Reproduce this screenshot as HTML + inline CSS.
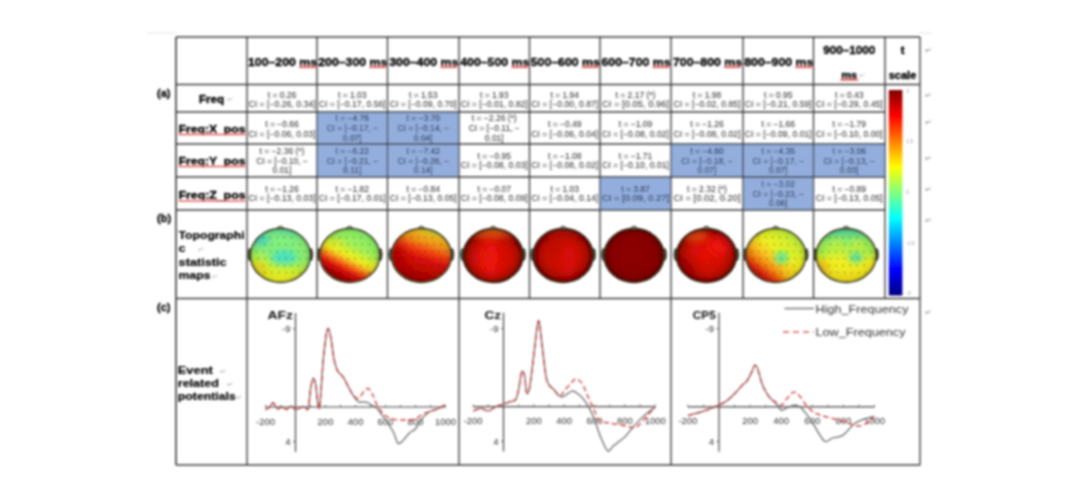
<!DOCTYPE html>
<html><head><meta charset="utf-8"><style>
html,body{margin:0;padding:0;background:#fff;width:1080px;height:504px;overflow:hidden}
#wrap{position:absolute;left:0;top:0;width:1080px;height:504px}
svg{display:block;font-family:"Liberation Sans",sans-serif}
</style></head><body><div id="wrap">
<svg width="1080" height="504" viewBox="0 0 1080 504">
<defs><filter id="gblur" x="0" y="0" width="1080" height="504" filterUnits="userSpaceOnUse"><feGaussianBlur stdDeviation="0.8"/></filter></defs>
<rect width="1080" height="504" fill="#fff"/>
<g filter="url(#gblur)">
<defs><linearGradient id="jet" x1="0" y1="0" x2="0" y2="1"><stop offset="0" stop-color="#800000"/><stop offset="0.125" stop-color="#ff0000"/><stop offset="0.375" stop-color="#ffff00"/><stop offset="0.625" stop-color="#00ffff"/><stop offset="0.875" stop-color="#0000ff"/><stop offset="1" stop-color="#000080"/></linearGradient><filter id="bl2" x="-50%" y="-50%" width="200%" height="200%"><feGaussianBlur stdDeviation="3"/></filter><filter id="bl4" x="-50%" y="-50%" width="200%" height="200%"><feGaussianBlur stdDeviation="5"/></filter></defs>
<rect x="888.8" y="90" width="13.6" height="205.5" fill="url(#jet)"/>
<text x="906" y="93" font-size="5" font-weight="normal" text-anchor="start" fill="#999"  >3</text>
<text x="906" y="143" font-size="5" font-weight="normal" text-anchor="start" fill="#999"  >1.5</text>
<text x="906" y="194" font-size="5" font-weight="normal" text-anchor="start" fill="#999"  >0</text>
<text x="906" y="245" font-size="5" font-weight="normal" text-anchor="start" fill="#999"  >-1.5</text>
<text x="906" y="295" font-size="5" font-weight="normal" text-anchor="start" fill="#999"  >-3</text>
<rect x="317" y="112" width="70.5" height="32" fill="#93aedd"/>
<rect x="387.5" y="112" width="71.5" height="32" fill="#93aedd"/>
<rect x="317" y="144" width="70.5" height="33" fill="#93aedd"/>
<rect x="387.5" y="144" width="71.5" height="33" fill="#93aedd"/>
<rect x="671" y="144" width="72" height="33" fill="#93aedd"/>
<rect x="743" y="144" width="70.5" height="33" fill="#93aedd"/>
<rect x="813.5" y="144" width="71.5" height="33" fill="#93aedd"/>
<rect x="600" y="177" width="71" height="33" fill="#93aedd"/>
<rect x="743" y="177" width="70.5" height="33" fill="#93aedd"/>
<line x1="176" y1="37" x2="920" y2="37" stroke="#383838" stroke-width="1.3"/>
<line x1="176" y1="84.5" x2="920" y2="84.5" stroke="#383838" stroke-width="1.3"/>
<line x1="147" y1="33" x2="176" y2="33" stroke="#e4e4e4" stroke-width="1"/>
<line x1="918" y1="33" x2="932" y2="33" stroke="#e4e4e4" stroke-width="1"/>
<line x1="176" y1="112" x2="885" y2="112" stroke="#383838" stroke-width="1.3"/>
<line x1="176" y1="144" x2="885" y2="144" stroke="#383838" stroke-width="1.3"/>
<line x1="176" y1="177" x2="885" y2="177" stroke="#383838" stroke-width="1.3"/>
<line x1="176" y1="210" x2="885" y2="210" stroke="#383838" stroke-width="1.3"/>
<line x1="176" y1="298.5" x2="920" y2="298.5" stroke="#383838" stroke-width="1.3"/>
<line x1="176" y1="465" x2="920" y2="465" stroke="#383838" stroke-width="1.3"/>
<line x1="176" y1="37" x2="176" y2="465" stroke="#383838" stroke-width="1.6"/>
<line x1="920" y1="37" x2="920" y2="465" stroke="#383838" stroke-width="1.3"/>
<line x1="247" y1="37" x2="247" y2="465" stroke="#383838" stroke-width="1.3"/>
<line x1="317" y1="37" x2="317" y2="298.5" stroke="#383838" stroke-width="1.3"/>
<line x1="387.5" y1="37" x2="387.5" y2="298.5" stroke="#383838" stroke-width="1.3"/>
<line x1="459" y1="37" x2="459" y2="298.5" stroke="#383838" stroke-width="1.3"/>
<line x1="529.5" y1="37" x2="529.5" y2="298.5" stroke="#383838" stroke-width="1.3"/>
<line x1="600" y1="37" x2="600" y2="298.5" stroke="#383838" stroke-width="1.3"/>
<line x1="671" y1="37" x2="671" y2="298.5" stroke="#383838" stroke-width="1.3"/>
<line x1="743" y1="37" x2="743" y2="298.5" stroke="#383838" stroke-width="1.3"/>
<line x1="813.5" y1="37" x2="813.5" y2="298.5" stroke="#383838" stroke-width="1.3"/>
<line x1="885" y1="37" x2="885" y2="298.5" stroke="#383838" stroke-width="1.3"/>
<line x1="459" y1="298.5" x2="459" y2="465" stroke="#383838" stroke-width="1.3"/>
<line x1="671" y1="298.5" x2="671" y2="465" stroke="#383838" stroke-width="1.3"/>
<text x="282.5" y="66" font-size="11" font-weight="bold" text-anchor="middle" fill="#000" textLength="69" lengthAdjust="spacingAndGlyphs" stroke="#000" stroke-width="0.35">100–200 ms</text>
<line x1="299.0" y1="67.3" x2="316.0" y2="67.3" stroke="#e05a5a" stroke-width="1.6"/>
<text x="352.75" y="66" font-size="11" font-weight="bold" text-anchor="middle" fill="#000" textLength="69" lengthAdjust="spacingAndGlyphs" stroke="#000" stroke-width="0.35">200–300 ms</text>
<line x1="369.25" y1="67.3" x2="386.25" y2="67.3" stroke="#e05a5a" stroke-width="1.6"/>
<text x="423.75" y="66" font-size="11" font-weight="bold" text-anchor="middle" fill="#000" textLength="69" lengthAdjust="spacingAndGlyphs" stroke="#000" stroke-width="0.35">300–400 ms</text>
<line x1="440.25" y1="67.3" x2="457.25" y2="67.3" stroke="#e05a5a" stroke-width="1.6"/>
<text x="494.75" y="66" font-size="11" font-weight="bold" text-anchor="middle" fill="#000" textLength="69" lengthAdjust="spacingAndGlyphs" stroke="#000" stroke-width="0.35">400–500 ms</text>
<line x1="511.25" y1="67.3" x2="528.25" y2="67.3" stroke="#e05a5a" stroke-width="1.6"/>
<text x="565.25" y="66" font-size="11" font-weight="bold" text-anchor="middle" fill="#000" textLength="69" lengthAdjust="spacingAndGlyphs" stroke="#000" stroke-width="0.35">500–600 ms</text>
<line x1="581.75" y1="67.3" x2="598.75" y2="67.3" stroke="#e05a5a" stroke-width="1.6"/>
<text x="636.0" y="66" font-size="11" font-weight="bold" text-anchor="middle" fill="#000" textLength="69" lengthAdjust="spacingAndGlyphs" stroke="#000" stroke-width="0.35">600–700 ms</text>
<line x1="652.5" y1="67.3" x2="669.5" y2="67.3" stroke="#e05a5a" stroke-width="1.6"/>
<text x="707.5" y="66" font-size="11" font-weight="bold" text-anchor="middle" fill="#000" textLength="69" lengthAdjust="spacingAndGlyphs" stroke="#000" stroke-width="0.35">700–800 ms</text>
<line x1="724.0" y1="67.3" x2="741.0" y2="67.3" stroke="#e05a5a" stroke-width="1.6"/>
<text x="778.75" y="66" font-size="11" font-weight="bold" text-anchor="middle" fill="#000" textLength="69" lengthAdjust="spacingAndGlyphs" stroke="#000" stroke-width="0.35">800–900 ms</text>
<line x1="795.25" y1="67.3" x2="812.25" y2="67.3" stroke="#e05a5a" stroke-width="1.6"/>
<text x="849.25" y="54" font-size="11" font-weight="bold" text-anchor="middle" fill="#000" textLength="52" lengthAdjust="spacingAndGlyphs" stroke="#000" stroke-width="0.35">900–1000</text>
<text x="849.25" y="78.5" font-size="11" font-weight="bold" text-anchor="middle" fill="#000"  stroke="#000" stroke-width="0.35">ms</text>
<line x1="840.25" y1="79.8" x2="858.25" y2="79.8" stroke="#e05a5a" stroke-width="1.6"/>
<text x="862.25" y="78" font-size="7" font-weight="normal" text-anchor="middle" fill="#aaa"  >↵</text>
<text x="902.5" y="54" font-size="11" font-weight="bold" text-anchor="middle" fill="#000"  stroke="#000" stroke-width="0.35">t</text>
<text x="902.5" y="78.5" font-size="11" font-weight="bold" text-anchor="middle" fill="#000"  stroke="#000" stroke-width="0.35">scale</text>
<text x="211.5" y="102.5" font-size="11.5" font-weight="bold" text-anchor="middle" fill="#000"  stroke="#000" stroke-width="0.35">Freq</text>
<text x="230" y="102" font-size="7" font-weight="normal" text-anchor="middle" fill="#aaa"  >↵</text>
<text x="178.5" y="132.5" font-size="11" font-weight="bold" text-anchor="start" fill="#000" textLength="67" lengthAdjust="spacingAndGlyphs" stroke="#000" stroke-width="0.35">Freq:X_pos</text>
<line x1="178.5" y1="134.5" x2="245.5" y2="134.5" stroke="#e06060" stroke-width="1.5"/>
<text x="178.5" y="164.5" font-size="11" font-weight="bold" text-anchor="start" fill="#000" textLength="67" lengthAdjust="spacingAndGlyphs" stroke="#000" stroke-width="0.35">Freq:Y_pos</text>
<line x1="178.5" y1="166.5" x2="245.5" y2="166.5" stroke="#e06060" stroke-width="1.5"/>
<text x="178.5" y="199" font-size="11" font-weight="bold" text-anchor="start" fill="#000" textLength="67" lengthAdjust="spacingAndGlyphs" stroke="#000" stroke-width="0.35">Freq:Z_pos</text>
<line x1="178.5" y1="201" x2="245.5" y2="201" stroke="#e06060" stroke-width="1.5"/>
<text x="157" y="97" font-size="11" font-weight="bold" text-anchor="start" fill="#000"  stroke="#000" stroke-width="0.3">(a)</text>
<text x="157" y="221.5" font-size="11" font-weight="bold" text-anchor="start" fill="#000"  stroke="#000" stroke-width="0.3">(b)</text>
<text x="157" y="310.5" font-size="11" font-weight="bold" text-anchor="start" fill="#000"  stroke="#000" stroke-width="0.3">(c)</text>
<text x="178.6" y="238.5" font-size="11" font-weight="bold" text-anchor="start" fill="#000" textLength="66" lengthAdjust="spacingAndGlyphs" stroke="#000" stroke-width="0.2">Topographi</text>
<text x="178.6" y="252" font-size="11" font-weight="bold" text-anchor="start" fill="#000" textLength="7" lengthAdjust="spacingAndGlyphs" stroke="#000" stroke-width="0.2">c</text>
<text x="178.6" y="265.5" font-size="11" font-weight="bold" text-anchor="start" fill="#000" textLength="48" lengthAdjust="spacingAndGlyphs" stroke="#000" stroke-width="0.2">statistic</text>
<text x="178.6" y="279" font-size="11" font-weight="bold" text-anchor="start" fill="#000" textLength="32" lengthAdjust="spacingAndGlyphs" stroke="#000" stroke-width="0.2">maps</text>
<text x="198" y="252" font-size="7" font-weight="normal" text-anchor="start" fill="#aaa"  >↵</text>
<text x="212" y="279" font-size="7" font-weight="normal" text-anchor="start" fill="#aaa"  >↵</text>
<text x="177.8" y="374" font-size="11" font-weight="bold" text-anchor="start" fill="#000" textLength="35" lengthAdjust="spacingAndGlyphs" stroke="#000" stroke-width="0.2">Event</text>
<text x="177.8" y="386.5" font-size="11" font-weight="bold" text-anchor="start" fill="#000" textLength="41" lengthAdjust="spacingAndGlyphs" stroke="#000" stroke-width="0.2">related</text>
<text x="177.8" y="400" font-size="11" font-weight="bold" text-anchor="start" fill="#000" textLength="58" lengthAdjust="spacingAndGlyphs" stroke="#000" stroke-width="0.2">potentials</text>
<text x="220" y="374" font-size="7" font-weight="normal" text-anchor="start" fill="#999"  >↵</text>
<text x="227" y="386.5" font-size="7" font-weight="normal" text-anchor="start" fill="#999"  >↵</text>
<text x="236" y="400" font-size="7" font-weight="normal" text-anchor="start" fill="#999"  >↵</text>
<text x="282.0" y="97.5" font-size="8.5" font-weight="normal" text-anchor="middle" fill="#2a2a2a"  >t = 0.26</text>
<text x="282.0" y="107.4" font-size="8.5" font-weight="normal" text-anchor="middle" fill="#2a2a2a" textLength="67" lengthAdjust="spacingAndGlyphs" >CI = [−0.26, 0.34]</text>
<text x="352.25" y="97.5" font-size="8.5" font-weight="normal" text-anchor="middle" fill="#2a2a2a"  >t = 1.03</text>
<text x="352.25" y="107.4" font-size="8.5" font-weight="normal" text-anchor="middle" fill="#2a2a2a" textLength="67" lengthAdjust="spacingAndGlyphs" >CI = [−0.17, 0.56]</text>
<text x="423.25" y="97.5" font-size="8.5" font-weight="normal" text-anchor="middle" fill="#2a2a2a"  >t = 1.53</text>
<text x="423.25" y="107.4" font-size="8.5" font-weight="normal" text-anchor="middle" fill="#2a2a2a" textLength="67" lengthAdjust="spacingAndGlyphs" >CI = [−0.09, 0.70]</text>
<text x="494.25" y="97.5" font-size="8.5" font-weight="normal" text-anchor="middle" fill="#2a2a2a"  >t = 1.93</text>
<text x="494.25" y="107.4" font-size="8.5" font-weight="normal" text-anchor="middle" fill="#2a2a2a" textLength="67" lengthAdjust="spacingAndGlyphs" >CI = [−0.01, 0.82]</text>
<text x="564.75" y="97.5" font-size="8.5" font-weight="normal" text-anchor="middle" fill="#2a2a2a"  >t = 1.94</text>
<text x="564.75" y="107.4" font-size="8.5" font-weight="normal" text-anchor="middle" fill="#2a2a2a" textLength="67" lengthAdjust="spacingAndGlyphs" >CI = [−0.00, 0.87]</text>
<text x="635.5" y="97.5" font-size="8.5" font-weight="normal" text-anchor="middle" fill="#2a2a2a"  >t = 2.17 (*)</text>
<text x="635.5" y="107.4" font-size="8.5" font-weight="normal" text-anchor="middle" fill="#2a2a2a" textLength="67" lengthAdjust="spacingAndGlyphs" >CI = [0.05, 0.96]</text>
<text x="707.0" y="97.5" font-size="8.5" font-weight="normal" text-anchor="middle" fill="#2a2a2a"  >t = 1.98</text>
<text x="707.0" y="107.4" font-size="8.5" font-weight="normal" text-anchor="middle" fill="#2a2a2a" textLength="67" lengthAdjust="spacingAndGlyphs" >CI = [−0.02, 0.85]</text>
<text x="778.25" y="97.5" font-size="8.5" font-weight="normal" text-anchor="middle" fill="#2a2a2a"  >t = 0.95</text>
<text x="778.25" y="107.4" font-size="8.5" font-weight="normal" text-anchor="middle" fill="#2a2a2a" textLength="67" lengthAdjust="spacingAndGlyphs" >CI = [−0.21, 0.59]</text>
<text x="849.25" y="97.5" font-size="8.5" font-weight="normal" text-anchor="middle" fill="#2a2a2a"  >t = 0.43</text>
<text x="849.25" y="107.4" font-size="8.5" font-weight="normal" text-anchor="middle" fill="#2a2a2a" textLength="67" lengthAdjust="spacingAndGlyphs" >CI = [−0.29, 0.45]</text>
<text x="282.0" y="126.7" font-size="8.5" font-weight="normal" text-anchor="middle" fill="#2a2a2a"  >t = −0.66</text>
<text x="282.0" y="136.5" font-size="8.5" font-weight="normal" text-anchor="middle" fill="#2a2a2a" textLength="67" lengthAdjust="spacingAndGlyphs" >CI = [−0.06, 0.03]</text>
<text x="352.25" y="121.2" font-size="8.5" font-weight="normal" text-anchor="middle" fill="#0e1838"  >t = −4.76</text>
<text x="352.25" y="131.0" font-size="8.5" font-weight="normal" text-anchor="middle" fill="#0e1838"  >CI = [−0.17, −</text>
<text x="352.25" y="140.8" font-size="8.5" font-weight="normal" text-anchor="middle" fill="#0e1838"  >0.07]</text>
<text x="423.25" y="121.2" font-size="8.5" font-weight="normal" text-anchor="middle" fill="#0e1838"  >t = −3.70</text>
<text x="423.25" y="131.0" font-size="8.5" font-weight="normal" text-anchor="middle" fill="#0e1838"  >CI = [−0.14, −</text>
<text x="423.25" y="140.8" font-size="8.5" font-weight="normal" text-anchor="middle" fill="#0e1838"  >0.04]</text>
<text x="494.25" y="121.2" font-size="8.5" font-weight="normal" text-anchor="middle" fill="#2a2a2a"  >t = −2.26 (*)</text>
<text x="494.25" y="131.0" font-size="8.5" font-weight="normal" text-anchor="middle" fill="#2a2a2a"  >CI = [−0.11, −</text>
<text x="494.25" y="140.8" font-size="8.5" font-weight="normal" text-anchor="middle" fill="#2a2a2a"  >0.01]</text>
<text x="564.75" y="126.7" font-size="8.5" font-weight="normal" text-anchor="middle" fill="#2a2a2a"  >t = −0.49</text>
<text x="564.75" y="136.5" font-size="8.5" font-weight="normal" text-anchor="middle" fill="#2a2a2a" textLength="67" lengthAdjust="spacingAndGlyphs" >CI = [−0.06, 0.04]</text>
<text x="635.5" y="126.7" font-size="8.5" font-weight="normal" text-anchor="middle" fill="#2a2a2a"  >t = −1.09</text>
<text x="635.5" y="136.5" font-size="8.5" font-weight="normal" text-anchor="middle" fill="#2a2a2a" textLength="67" lengthAdjust="spacingAndGlyphs" >CI = [−0.08, 0.02]</text>
<text x="707.0" y="126.7" font-size="8.5" font-weight="normal" text-anchor="middle" fill="#2a2a2a"  >t = −1.26</text>
<text x="707.0" y="136.5" font-size="8.5" font-weight="normal" text-anchor="middle" fill="#2a2a2a" textLength="67" lengthAdjust="spacingAndGlyphs" >CI = [−0.08, 0.02]</text>
<text x="778.25" y="126.7" font-size="8.5" font-weight="normal" text-anchor="middle" fill="#2a2a2a"  >t = −1.66</text>
<text x="778.25" y="136.5" font-size="8.5" font-weight="normal" text-anchor="middle" fill="#2a2a2a" textLength="67" lengthAdjust="spacingAndGlyphs" >CI = [−0.09, 0.01]</text>
<text x="849.25" y="126.7" font-size="8.5" font-weight="normal" text-anchor="middle" fill="#2a2a2a"  >t = −1.79</text>
<text x="849.25" y="136.5" font-size="8.5" font-weight="normal" text-anchor="middle" fill="#2a2a2a" textLength="67" lengthAdjust="spacingAndGlyphs" >CI = [−0.10, 0.00]</text>
<text x="282.0" y="153.7" font-size="8.5" font-weight="normal" text-anchor="middle" fill="#2a2a2a"  >t = −2.36 (*)</text>
<text x="282.0" y="163.5" font-size="8.5" font-weight="normal" text-anchor="middle" fill="#2a2a2a"  >CI = [−0.10, −</text>
<text x="282.0" y="173.3" font-size="8.5" font-weight="normal" text-anchor="middle" fill="#2a2a2a"  >0.01]</text>
<text x="352.25" y="153.7" font-size="8.5" font-weight="normal" text-anchor="middle" fill="#0e1838"  >t = −6.22</text>
<text x="352.25" y="163.5" font-size="8.5" font-weight="normal" text-anchor="middle" fill="#0e1838"  >CI = [−0.21, −</text>
<text x="352.25" y="173.3" font-size="8.5" font-weight="normal" text-anchor="middle" fill="#0e1838"  >0.11]</text>
<text x="423.25" y="153.7" font-size="8.5" font-weight="normal" text-anchor="middle" fill="#0e1838"  >t = −7.42</text>
<text x="423.25" y="163.5" font-size="8.5" font-weight="normal" text-anchor="middle" fill="#0e1838"  >CI = [−0.26, −</text>
<text x="423.25" y="173.3" font-size="8.5" font-weight="normal" text-anchor="middle" fill="#0e1838"  >0.14]</text>
<text x="494.25" y="158.6" font-size="8.5" font-weight="normal" text-anchor="middle" fill="#2a2a2a"  >t = −0.95</text>
<text x="494.25" y="168.4" font-size="8.5" font-weight="normal" text-anchor="middle" fill="#2a2a2a" textLength="67" lengthAdjust="spacingAndGlyphs" >CI = [−0.08, 0.03]</text>
<text x="564.75" y="158.6" font-size="8.5" font-weight="normal" text-anchor="middle" fill="#2a2a2a"  >t = −1.08</text>
<text x="564.75" y="168.4" font-size="8.5" font-weight="normal" text-anchor="middle" fill="#2a2a2a" textLength="67" lengthAdjust="spacingAndGlyphs" >CI = [−0.08, 0.02]</text>
<text x="635.5" y="158.6" font-size="8.5" font-weight="normal" text-anchor="middle" fill="#2a2a2a"  >t = −1.71</text>
<text x="635.5" y="168.4" font-size="8.5" font-weight="normal" text-anchor="middle" fill="#2a2a2a" textLength="67" lengthAdjust="spacingAndGlyphs" >CI = [−0.10, 0.01]</text>
<text x="707.0" y="153.7" font-size="8.5" font-weight="normal" text-anchor="middle" fill="#0e1838"  >t = −4.60</text>
<text x="707.0" y="163.5" font-size="8.5" font-weight="normal" text-anchor="middle" fill="#0e1838"  >CI = [−0.18, −</text>
<text x="707.0" y="173.3" font-size="8.5" font-weight="normal" text-anchor="middle" fill="#0e1838"  >0.07]</text>
<text x="778.25" y="153.7" font-size="8.5" font-weight="normal" text-anchor="middle" fill="#0e1838"  >t = −4.35</text>
<text x="778.25" y="163.5" font-size="8.5" font-weight="normal" text-anchor="middle" fill="#0e1838"  >CI = [−0.17, −</text>
<text x="778.25" y="173.3" font-size="8.5" font-weight="normal" text-anchor="middle" fill="#0e1838"  >0.07]</text>
<text x="849.25" y="153.7" font-size="8.5" font-weight="normal" text-anchor="middle" fill="#0e1838"  >t = −3.06</text>
<text x="849.25" y="163.5" font-size="8.5" font-weight="normal" text-anchor="middle" fill="#0e1838"  >CI = [−0.13, −</text>
<text x="849.25" y="173.3" font-size="8.5" font-weight="normal" text-anchor="middle" fill="#0e1838"  >0.03]</text>
<text x="282.0" y="191.6" font-size="8.5" font-weight="normal" text-anchor="middle" fill="#2a2a2a"  >t = −1.26</text>
<text x="282.0" y="201.4" font-size="8.5" font-weight="normal" text-anchor="middle" fill="#2a2a2a" textLength="67" lengthAdjust="spacingAndGlyphs" >CI = [−0.13, 0.03]</text>
<text x="352.25" y="191.6" font-size="8.5" font-weight="normal" text-anchor="middle" fill="#2a2a2a"  >t = −1.82</text>
<text x="352.25" y="201.4" font-size="8.5" font-weight="normal" text-anchor="middle" fill="#2a2a2a" textLength="67" lengthAdjust="spacingAndGlyphs" >CI = [−0.17, 0.01]</text>
<text x="423.25" y="191.6" font-size="8.5" font-weight="normal" text-anchor="middle" fill="#2a2a2a"  >t = −0.84</text>
<text x="423.25" y="201.4" font-size="8.5" font-weight="normal" text-anchor="middle" fill="#2a2a2a" textLength="67" lengthAdjust="spacingAndGlyphs" >CI = [−0.13, 0.05]</text>
<text x="494.25" y="191.6" font-size="8.5" font-weight="normal" text-anchor="middle" fill="#2a2a2a"  >t = −0.07</text>
<text x="494.25" y="201.4" font-size="8.5" font-weight="normal" text-anchor="middle" fill="#2a2a2a" textLength="67" lengthAdjust="spacingAndGlyphs" >CI = [−0.08, 0.09]</text>
<text x="564.75" y="191.6" font-size="8.5" font-weight="normal" text-anchor="middle" fill="#2a2a2a"  >t = 1.03</text>
<text x="564.75" y="201.4" font-size="8.5" font-weight="normal" text-anchor="middle" fill="#2a2a2a" textLength="67" lengthAdjust="spacingAndGlyphs" >CI = [−0.04, 0.14]</text>
<text x="635.5" y="191.6" font-size="8.5" font-weight="normal" text-anchor="middle" fill="#0e1838"  >t = 3.87</text>
<text x="635.5" y="201.4" font-size="8.5" font-weight="normal" text-anchor="middle" fill="#0e1838" textLength="67" lengthAdjust="spacingAndGlyphs" >CI = [0.09, 0.27]</text>
<text x="707.0" y="191.6" font-size="8.5" font-weight="normal" text-anchor="middle" fill="#2a2a2a"  >t = 2.32 (*)</text>
<text x="707.0" y="201.4" font-size="8.5" font-weight="normal" text-anchor="middle" fill="#2a2a2a" textLength="67" lengthAdjust="spacingAndGlyphs" >CI = [0.02, 0.20]</text>
<text x="778.25" y="186.7" font-size="8.5" font-weight="normal" text-anchor="middle" fill="#0e1838"  >t = −3.02</text>
<text x="778.25" y="196.5" font-size="8.5" font-weight="normal" text-anchor="middle" fill="#0e1838"  >CI = [−0.23, −</text>
<text x="778.25" y="206.3" font-size="8.5" font-weight="normal" text-anchor="middle" fill="#0e1838"  >0.06]</text>
<text x="849.25" y="191.6" font-size="8.5" font-weight="normal" text-anchor="middle" fill="#2a2a2a"  >t = −0.89</text>
<text x="849.25" y="201.4" font-size="8.5" font-weight="normal" text-anchor="middle" fill="#2a2a2a" textLength="67" lengthAdjust="spacingAndGlyphs" >CI = [−0.13, 0.05]</text>
<defs><radialGradient id="vign" cx="0.5" cy="0.5" r="0.5"><stop offset="0.6" stop-color="#000" stop-opacity="0"/><stop offset="0.85" stop-color="#000" stop-opacity="0.15"/><stop offset="1" stop-color="#000" stop-opacity="0.5"/></radialGradient></defs>
<defs><clipPath id="clip0"><ellipse cx="280.4" cy="255.5" rx="30.2" ry="27.1"/></clipPath><linearGradient id="g0" x1="0.6" y1="0.0" x2="0.4" y2="1.0"><stop offset="0" stop-color="#58dcb0"/><stop offset="0.2" stop-color="#80f080"/><stop offset="0.45" stop-color="#88f078"/><stop offset="0.7" stop-color="#c8f038"/><stop offset="1" stop-color="#f0f020"/></linearGradient></defs>
<ellipse cx="249.7" cy="254.5" rx="2.2" ry="6.5" fill="#4a4a3a" />
<ellipse cx="311.09999999999997" cy="254.5" rx="2.2" ry="6.5" fill="#4a4a3a" />
<path d="M275.4,229.9 Q280.4,222.4 285.4,229.9 Z" fill="#9aa090" stroke="#4a4a3a" stroke-width="1"/>
<g clip-path="url(#clip0)">
<rect x="248.2" y="226.4" width="64.4" height="58.2" fill="url(#g0)"/>
<ellipse cx="284.4" cy="257.5" rx="14" ry="7" fill="#40e0c8" opacity="0.9" filter="url(#bl2)"/>
<ellipse cx="260.4" cy="239.5" rx="9" ry="6" fill="#40d0d0" opacity="0.8" filter="url(#bl2)"/>
<ellipse cx="302.4" cy="251.5" rx="7" ry="12" fill="#90f070" opacity="0.6" filter="url(#bl2)"/>
<ellipse cx="258.4" cy="271.5" rx="9" ry="10" fill="#f0d020" opacity="0.8" filter="url(#bl2)"/>
<ellipse cx="280.4" cy="279.5" rx="22" ry="6" fill="#f0f020" opacity="0.8" filter="url(#bl2)"/>
<circle cx="263.4" cy="237.5" r="0.85" fill="#000" opacity="0.4"/>
<circle cx="270.4" cy="237.5" r="0.85" fill="#000" opacity="0.4"/>
<circle cx="277.4" cy="237.5" r="0.85" fill="#000" opacity="0.4"/>
<circle cx="284.4" cy="237.5" r="0.85" fill="#000" opacity="0.4"/>
<circle cx="291.4" cy="237.5" r="0.85" fill="#000" opacity="0.4"/>
<circle cx="264.9" cy="244.5" r="0.85" fill="#000" opacity="0.4"/>
<circle cx="271.9" cy="244.5" r="0.85" fill="#000" opacity="0.4"/>
<circle cx="278.9" cy="244.5" r="0.85" fill="#000" opacity="0.4"/>
<circle cx="285.9" cy="244.5" r="0.85" fill="#000" opacity="0.4"/>
<circle cx="292.9" cy="244.5" r="0.85" fill="#000" opacity="0.4"/>
<circle cx="299.9" cy="244.5" r="0.85" fill="#000" opacity="0.4"/>
<circle cx="256.4" cy="251.5" r="0.85" fill="#000" opacity="0.4"/>
<circle cx="263.4" cy="251.5" r="0.85" fill="#000" opacity="0.4"/>
<circle cx="270.4" cy="251.5" r="0.85" fill="#000" opacity="0.4"/>
<circle cx="277.4" cy="251.5" r="0.85" fill="#000" opacity="0.4"/>
<circle cx="284.4" cy="251.5" r="0.85" fill="#000" opacity="0.4"/>
<circle cx="291.4" cy="251.5" r="0.85" fill="#000" opacity="0.4"/>
<circle cx="298.4" cy="251.5" r="0.85" fill="#000" opacity="0.4"/>
<circle cx="305.4" cy="251.5" r="0.85" fill="#000" opacity="0.4"/>
<circle cx="257.9" cy="258.5" r="0.85" fill="#000" opacity="0.4"/>
<circle cx="264.9" cy="258.5" r="0.85" fill="#000" opacity="0.4"/>
<circle cx="271.9" cy="258.5" r="0.85" fill="#000" opacity="0.4"/>
<circle cx="278.9" cy="258.5" r="0.85" fill="#000" opacity="0.4"/>
<circle cx="285.9" cy="258.5" r="0.85" fill="#000" opacity="0.4"/>
<circle cx="292.9" cy="258.5" r="0.85" fill="#000" opacity="0.4"/>
<circle cx="299.9" cy="258.5" r="0.85" fill="#000" opacity="0.4"/>
<circle cx="306.9" cy="258.5" r="0.85" fill="#000" opacity="0.4"/>
<circle cx="263.4" cy="265.5" r="0.85" fill="#000" opacity="0.4"/>
<circle cx="270.4" cy="265.5" r="0.85" fill="#000" opacity="0.4"/>
<circle cx="277.4" cy="265.5" r="0.85" fill="#000" opacity="0.4"/>
<circle cx="284.4" cy="265.5" r="0.85" fill="#000" opacity="0.4"/>
<circle cx="291.4" cy="265.5" r="0.85" fill="#000" opacity="0.4"/>
<circle cx="298.4" cy="265.5" r="0.85" fill="#000" opacity="0.4"/>
<circle cx="264.9" cy="272.5" r="0.85" fill="#000" opacity="0.4"/>
<circle cx="271.9" cy="272.5" r="0.85" fill="#000" opacity="0.4"/>
<circle cx="278.9" cy="272.5" r="0.85" fill="#000" opacity="0.4"/>
<circle cx="285.9" cy="272.5" r="0.85" fill="#000" opacity="0.4"/>
<circle cx="292.9" cy="272.5" r="0.85" fill="#000" opacity="0.4"/>
<circle cx="299.9" cy="272.5" r="0.85" fill="#000" opacity="0.4"/>
</g>
<ellipse cx="280.4" cy="255.5" rx="30.2" ry="27.1" fill="url(#vign)" opacity="0.35"/>
<ellipse cx="280.4" cy="255.5" rx="29.9" ry="26.8" fill="none" stroke="#3a3a20" stroke-width="1.8"/>
<defs><clipPath id="clip1"><ellipse cx="349.7" cy="255.5" rx="30.2" ry="27.1"/></clipPath><linearGradient id="g1" gradientUnits="userSpaceOnUse" x1="363.2" y1="228.8" x2="336.2" y2="282.2"><stop offset="0" stop-color="#80f070"/><stop offset="0.32" stop-color="#a0f058"/><stop offset="0.47" stop-color="#e0f028"/><stop offset="0.54" stop-color="#f0e020"/><stop offset="0.61" stop-color="#f8a020"/><stop offset="0.69" stop-color="#f05010"/><stop offset="0.77" stop-color="#d81010"/><stop offset="0.88" stop-color="#a80000"/><stop offset="1" stop-color="#700000"/></linearGradient></defs>
<ellipse cx="319.0" cy="254.5" rx="2.2" ry="6.5" fill="#4a4a3a" />
<ellipse cx="380.4" cy="254.5" rx="2.2" ry="6.5" fill="#4a4a3a" />
<path d="M344.7,229.9 Q349.7,222.4 354.7,229.9 Z" fill="#9aa090" stroke="#4a4a3a" stroke-width="1"/>
<g clip-path="url(#clip1)">
<rect x="317.5" y="226.4" width="64.4" height="58.2" fill="url(#g1)"/>
<ellipse cx="339.7" cy="243.5" rx="6" ry="4" fill="#f0e030" opacity="0.4" filter="url(#bl2)"/>
<circle cx="332.7" cy="237.5" r="0.85" fill="#000" opacity="0.4"/>
<circle cx="339.7" cy="237.5" r="0.85" fill="#000" opacity="0.4"/>
<circle cx="346.7" cy="237.5" r="0.85" fill="#000" opacity="0.4"/>
<circle cx="353.7" cy="237.5" r="0.85" fill="#000" opacity="0.4"/>
<circle cx="360.7" cy="237.5" r="0.85" fill="#000" opacity="0.4"/>
<circle cx="334.2" cy="244.5" r="0.85" fill="#000" opacity="0.4"/>
<circle cx="341.2" cy="244.5" r="0.85" fill="#000" opacity="0.4"/>
<circle cx="348.2" cy="244.5" r="0.85" fill="#000" opacity="0.4"/>
<circle cx="355.2" cy="244.5" r="0.85" fill="#000" opacity="0.4"/>
<circle cx="362.2" cy="244.5" r="0.85" fill="#000" opacity="0.4"/>
<circle cx="369.2" cy="244.5" r="0.85" fill="#000" opacity="0.4"/>
<circle cx="325.7" cy="251.5" r="0.85" fill="#000" opacity="0.4"/>
<circle cx="332.7" cy="251.5" r="0.85" fill="#000" opacity="0.4"/>
<circle cx="339.7" cy="251.5" r="0.85" fill="#000" opacity="0.4"/>
<circle cx="346.7" cy="251.5" r="0.85" fill="#000" opacity="0.4"/>
<circle cx="353.7" cy="251.5" r="0.85" fill="#000" opacity="0.4"/>
<circle cx="360.7" cy="251.5" r="0.85" fill="#000" opacity="0.4"/>
<circle cx="367.7" cy="251.5" r="0.85" fill="#000" opacity="0.4"/>
<circle cx="374.7" cy="251.5" r="0.85" fill="#000" opacity="0.4"/>
<circle cx="327.2" cy="258.5" r="0.85" fill="#000" opacity="0.4"/>
<circle cx="334.2" cy="258.5" r="0.85" fill="#000" opacity="0.4"/>
<circle cx="341.2" cy="258.5" r="0.85" fill="#000" opacity="0.4"/>
<circle cx="348.2" cy="258.5" r="0.85" fill="#000" opacity="0.4"/>
<circle cx="355.2" cy="258.5" r="0.85" fill="#000" opacity="0.4"/>
<circle cx="362.2" cy="258.5" r="0.85" fill="#000" opacity="0.4"/>
<circle cx="369.2" cy="258.5" r="0.85" fill="#000" opacity="0.4"/>
<circle cx="376.2" cy="258.5" r="0.85" fill="#000" opacity="0.4"/>
<circle cx="332.7" cy="265.5" r="0.85" fill="#000" opacity="0.4"/>
<circle cx="339.7" cy="265.5" r="0.85" fill="#000" opacity="0.4"/>
<circle cx="346.7" cy="265.5" r="0.85" fill="#000" opacity="0.4"/>
<circle cx="353.7" cy="265.5" r="0.85" fill="#000" opacity="0.4"/>
<circle cx="360.7" cy="265.5" r="0.85" fill="#000" opacity="0.4"/>
<circle cx="367.7" cy="265.5" r="0.85" fill="#000" opacity="0.4"/>
<circle cx="334.2" cy="272.5" r="0.85" fill="#000" opacity="0.4"/>
<circle cx="341.2" cy="272.5" r="0.85" fill="#000" opacity="0.4"/>
<circle cx="348.2" cy="272.5" r="0.85" fill="#000" opacity="0.4"/>
<circle cx="355.2" cy="272.5" r="0.85" fill="#000" opacity="0.4"/>
<circle cx="362.2" cy="272.5" r="0.85" fill="#000" opacity="0.4"/>
<circle cx="369.2" cy="272.5" r="0.85" fill="#000" opacity="0.4"/>
</g>
<ellipse cx="349.7" cy="255.5" rx="30.2" ry="27.1" fill="url(#vign)" opacity="0.35"/>
<ellipse cx="349.7" cy="255.5" rx="29.9" ry="26.8" fill="none" stroke="#3a3a20" stroke-width="1.8"/>
<defs><clipPath id="clip2"><ellipse cx="421.4" cy="255.5" rx="30.2" ry="27.1"/></clipPath><linearGradient id="g2" x1="0.68" y1="0" x2="0.32" y2="1"><stop offset="0" stop-color="#30b8a0"/><stop offset="0.06" stop-color="#90e050"/><stop offset="0.13" stop-color="#f0c020"/><stop offset="0.28" stop-color="#f09018"/><stop offset="0.42" stop-color="#f04010"/><stop offset="0.55" stop-color="#d81008"/><stop offset="0.8" stop-color="#b00404"/><stop offset="1" stop-color="#800000"/></linearGradient></defs>
<ellipse cx="390.7" cy="254.5" rx="2.2" ry="6.5" fill="#4a4a3a" />
<ellipse cx="452.09999999999997" cy="254.5" rx="2.2" ry="6.5" fill="#4a4a3a" />
<path d="M416.4,229.9 Q421.4,222.4 426.4,229.9 Z" fill="#9aa090" stroke="#4a4a3a" stroke-width="1"/>
<g clip-path="url(#clip2)">
<rect x="389.2" y="226.4" width="64.4" height="58.2" fill="url(#g2)"/>
<ellipse cx="397.4" cy="259.5" rx="8" ry="18" fill="#b00404" opacity="0.7" filter="url(#bl4)"/>
<circle cx="404.4" cy="237.5" r="0.85" fill="#000" opacity="0.4"/>
<circle cx="411.4" cy="237.5" r="0.85" fill="#000" opacity="0.4"/>
<circle cx="418.4" cy="237.5" r="0.85" fill="#000" opacity="0.4"/>
<circle cx="425.4" cy="237.5" r="0.85" fill="#000" opacity="0.4"/>
<circle cx="432.4" cy="237.5" r="0.85" fill="#000" opacity="0.4"/>
<circle cx="405.9" cy="244.5" r="0.85" fill="#000" opacity="0.4"/>
<circle cx="412.9" cy="244.5" r="0.85" fill="#000" opacity="0.4"/>
<circle cx="419.9" cy="244.5" r="0.85" fill="#000" opacity="0.4"/>
<circle cx="426.9" cy="244.5" r="0.85" fill="#000" opacity="0.4"/>
<circle cx="433.9" cy="244.5" r="0.85" fill="#000" opacity="0.4"/>
<circle cx="440.9" cy="244.5" r="0.85" fill="#000" opacity="0.4"/>
<circle cx="397.4" cy="251.5" r="0.85" fill="#000" opacity="0.4"/>
<circle cx="404.4" cy="251.5" r="0.85" fill="#000" opacity="0.4"/>
<circle cx="411.4" cy="251.5" r="0.85" fill="#000" opacity="0.4"/>
<circle cx="418.4" cy="251.5" r="0.85" fill="#000" opacity="0.4"/>
<circle cx="425.4" cy="251.5" r="0.85" fill="#000" opacity="0.4"/>
<circle cx="432.4" cy="251.5" r="0.85" fill="#000" opacity="0.4"/>
<circle cx="439.4" cy="251.5" r="0.85" fill="#000" opacity="0.4"/>
<circle cx="446.4" cy="251.5" r="0.85" fill="#000" opacity="0.4"/>
<circle cx="398.9" cy="258.5" r="0.85" fill="#000" opacity="0.4"/>
<circle cx="405.9" cy="258.5" r="0.85" fill="#000" opacity="0.4"/>
<circle cx="412.9" cy="258.5" r="0.85" fill="#000" opacity="0.4"/>
<circle cx="419.9" cy="258.5" r="0.85" fill="#000" opacity="0.4"/>
<circle cx="426.9" cy="258.5" r="0.85" fill="#000" opacity="0.4"/>
<circle cx="433.9" cy="258.5" r="0.85" fill="#000" opacity="0.4"/>
<circle cx="440.9" cy="258.5" r="0.85" fill="#000" opacity="0.4"/>
<circle cx="447.9" cy="258.5" r="0.85" fill="#000" opacity="0.4"/>
<circle cx="404.4" cy="265.5" r="0.85" fill="#000" opacity="0.4"/>
<circle cx="411.4" cy="265.5" r="0.85" fill="#000" opacity="0.4"/>
<circle cx="418.4" cy="265.5" r="0.85" fill="#000" opacity="0.4"/>
<circle cx="425.4" cy="265.5" r="0.85" fill="#000" opacity="0.4"/>
<circle cx="432.4" cy="265.5" r="0.85" fill="#000" opacity="0.4"/>
<circle cx="439.4" cy="265.5" r="0.85" fill="#000" opacity="0.4"/>
<circle cx="405.9" cy="272.5" r="0.85" fill="#000" opacity="0.4"/>
<circle cx="412.9" cy="272.5" r="0.85" fill="#000" opacity="0.4"/>
<circle cx="419.9" cy="272.5" r="0.85" fill="#000" opacity="0.4"/>
<circle cx="426.9" cy="272.5" r="0.85" fill="#000" opacity="0.4"/>
<circle cx="433.9" cy="272.5" r="0.85" fill="#000" opacity="0.4"/>
<circle cx="440.9" cy="272.5" r="0.85" fill="#000" opacity="0.4"/>
</g>
<ellipse cx="421.4" cy="255.5" rx="30.2" ry="27.1" fill="url(#vign)" opacity="0.35"/>
<ellipse cx="421.4" cy="255.5" rx="29.9" ry="26.8" fill="none" stroke="#3a3a20" stroke-width="1.8"/>
<defs><clipPath id="clip3"><ellipse cx="493.1" cy="255.5" rx="30.2" ry="27.1"/></clipPath><radialGradient id="g3" cx="0.5" cy="0.55" r="0.48"><stop offset="0" stop-color="#e81808"/><stop offset="0.5" stop-color="#d81008"/><stop offset="0.8" stop-color="#b80a06"/><stop offset="1" stop-color="#900604"/></radialGradient></defs>
<ellipse cx="462.40000000000003" cy="254.5" rx="2.2" ry="6.5" fill="#4a4a3a" />
<ellipse cx="523.8000000000001" cy="254.5" rx="2.2" ry="6.5" fill="#4a4a3a" />
<path d="M488.1,229.9 Q493.1,222.4 498.1,229.9 Z" fill="#9aa090" stroke="#4a4a3a" stroke-width="1"/>
<g clip-path="url(#clip3)">
<rect x="460.90000000000003" y="226.4" width="64.4" height="58.2" fill="url(#g3)"/>
<ellipse cx="493.1" cy="228.5" rx="22" ry="5" fill="#f0a020" opacity="1" filter="url(#bl2)"/>
<ellipse cx="493.1" cy="234.5" rx="24" ry="5" fill="#f05010" opacity="0.8" filter="url(#bl2)"/>
<ellipse cx="491.1" cy="259.5" rx="8" ry="20" fill="#f01808" opacity="0.5" filter="url(#bl4)"/>
<ellipse cx="507.1" cy="255.5" rx="6" ry="20" fill="#c00c06" opacity="0.5" filter="url(#bl4)"/>
</g>
<ellipse cx="493.1" cy="255.5" rx="30.2" ry="27.1" fill="url(#vign)" opacity="0.80"/>
<ellipse cx="493.1" cy="255.5" rx="29.9" ry="26.8" fill="none" stroke="#302010" stroke-width="1.8"/>
<defs><clipPath id="clip4"><ellipse cx="563.1" cy="255.5" rx="30.2" ry="27.1"/></clipPath><radialGradient id="g4" cx="0.5" cy="0.5" r="0.48"><stop offset="0" stop-color="#d81008"/><stop offset="0.5" stop-color="#c80c06"/><stop offset="0.8" stop-color="#b00806"/><stop offset="1" stop-color="#880404"/></radialGradient></defs>
<ellipse cx="532.4" cy="254.5" rx="2.2" ry="6.5" fill="#4a4a3a" />
<ellipse cx="593.8000000000001" cy="254.5" rx="2.2" ry="6.5" fill="#4a4a3a" />
<path d="M558.1,229.9 Q563.1,222.4 568.1,229.9 Z" fill="#9aa090" stroke="#4a4a3a" stroke-width="1"/>
<g clip-path="url(#clip4)">
<rect x="530.9" y="226.4" width="64.4" height="58.2" fill="url(#g4)"/>
<ellipse cx="555.1" cy="247.5" rx="8" ry="14" fill="#b80806" opacity="0.6" filter="url(#bl4)"/>
<ellipse cx="569.1" cy="261.5" rx="6" ry="18" fill="#e01008" opacity="0.6" filter="url(#bl4)"/>
<ellipse cx="563.1" cy="230.5" rx="20" ry="4" fill="#d02008" opacity="0.6" filter="url(#bl2)"/>
</g>
<ellipse cx="563.1" cy="255.5" rx="30.2" ry="27.1" fill="url(#vign)" opacity="0.80"/>
<ellipse cx="563.1" cy="255.5" rx="29.9" ry="26.8" fill="none" stroke="#302010" stroke-width="1.8"/>
<defs><clipPath id="clip5"><ellipse cx="634" cy="255.5" rx="30.2" ry="27.1"/></clipPath><radialGradient id="g5" cx="0.5" cy="0.5" r="0.48"><stop offset="0" stop-color="#8c0604"/><stop offset="0.8" stop-color="#880504"/><stop offset="1" stop-color="#780404"/></radialGradient></defs>
<ellipse cx="603.3" cy="254.5" rx="2.2" ry="6.5" fill="#4a4a3a" />
<ellipse cx="664.7" cy="254.5" rx="2.2" ry="6.5" fill="#4a4a3a" />
<path d="M629,229.9 Q634,222.4 639,229.9 Z" fill="#9aa090" stroke="#4a4a3a" stroke-width="1"/>
<g clip-path="url(#clip5)">
<rect x="601.8" y="226.4" width="64.4" height="58.2" fill="url(#g5)"/>
</g>
<ellipse cx="634" cy="255.5" rx="30.2" ry="27.1" fill="url(#vign)" opacity="0.60"/>
<ellipse cx="634" cy="255.5" rx="29.9" ry="26.8" fill="none" stroke="#302010" stroke-width="1.8"/>
<defs><clipPath id="clip6"><ellipse cx="706.4" cy="255.5" rx="30.2" ry="27.1"/></clipPath><radialGradient id="g6" cx="0.5" cy="0.5" r="0.48"><stop offset="0" stop-color="#e81408"/><stop offset="0.5" stop-color="#d41008"/><stop offset="0.8" stop-color="#b80a06"/><stop offset="1" stop-color="#900604"/></radialGradient></defs>
<ellipse cx="675.6999999999999" cy="254.5" rx="2.2" ry="6.5" fill="#4a4a3a" />
<ellipse cx="737.1" cy="254.5" rx="2.2" ry="6.5" fill="#4a4a3a" />
<path d="M701.4,229.9 Q706.4,222.4 711.4,229.9 Z" fill="#9aa090" stroke="#4a4a3a" stroke-width="1"/>
<g clip-path="url(#clip6)">
<rect x="674.1999999999999" y="226.4" width="64.4" height="58.2" fill="url(#g6)"/>
<ellipse cx="694.4" cy="235.5" rx="14" ry="6" fill="#e85010" opacity="0.9" filter="url(#bl2)"/>
<ellipse cx="720.4" cy="245.5" rx="12" ry="10" fill="#f81410" opacity="0.7" filter="url(#bl4)"/>
<ellipse cx="686.4" cy="269.5" rx="12" ry="14" fill="#a00604" opacity="0.6" filter="url(#bl4)"/>
<ellipse cx="710.4" cy="269.5" rx="6" ry="10" fill="#c80c06" opacity="0.6" filter="url(#bl4)"/>
</g>
<ellipse cx="706.4" cy="255.5" rx="30.2" ry="27.1" fill="url(#vign)" opacity="0.80"/>
<ellipse cx="706.4" cy="255.5" rx="29.9" ry="26.8" fill="none" stroke="#302010" stroke-width="1.8"/>
<defs><clipPath id="clip7"><ellipse cx="775.7" cy="255.5" rx="30.2" ry="27.1"/></clipPath><linearGradient id="g7" x1="0.85" y1="0.0" x2="0.1" y2="0.9"><stop offset="0" stop-color="#a8f050"/><stop offset="0.25" stop-color="#d0f030"/><stop offset="0.45" stop-color="#f0f020"/><stop offset="0.6" stop-color="#f8c020"/><stop offset="0.72" stop-color="#f08010"/><stop offset="0.82" stop-color="#e03010"/><stop offset="0.92" stop-color="#b00000"/><stop offset="1" stop-color="#800000"/></linearGradient></defs>
<ellipse cx="745.0" cy="254.5" rx="2.2" ry="6.5" fill="#4a4a3a" />
<ellipse cx="806.4000000000001" cy="254.5" rx="2.2" ry="6.5" fill="#4a4a3a" />
<path d="M770.7,229.9 Q775.7,222.4 780.7,229.9 Z" fill="#9aa090" stroke="#4a4a3a" stroke-width="1"/>
<g clip-path="url(#clip7)">
<rect x="743.5" y="226.4" width="64.4" height="58.2" fill="url(#g7)"/>
<ellipse cx="781.7" cy="257.5" rx="7" ry="6" fill="#70f080" opacity="0.8" filter="url(#bl2)"/>
<ellipse cx="781.7" cy="257.5" rx="5" ry="4" fill="#50e0a0" opacity="1" filter="url(#bl2)"/>
<ellipse cx="793.7" cy="273.5" rx="10" ry="8" fill="#f0e020" opacity="0.6" filter="url(#bl2)"/>
<circle cx="758.7" cy="237.5" r="0.85" fill="#000" opacity="0.4"/>
<circle cx="765.7" cy="237.5" r="0.85" fill="#000" opacity="0.4"/>
<circle cx="772.7" cy="237.5" r="0.85" fill="#000" opacity="0.4"/>
<circle cx="779.7" cy="237.5" r="0.85" fill="#000" opacity="0.4"/>
<circle cx="786.7" cy="237.5" r="0.85" fill="#000" opacity="0.4"/>
<circle cx="760.2" cy="244.5" r="0.85" fill="#000" opacity="0.4"/>
<circle cx="767.2" cy="244.5" r="0.85" fill="#000" opacity="0.4"/>
<circle cx="774.2" cy="244.5" r="0.85" fill="#000" opacity="0.4"/>
<circle cx="781.2" cy="244.5" r="0.85" fill="#000" opacity="0.4"/>
<circle cx="788.2" cy="244.5" r="0.85" fill="#000" opacity="0.4"/>
<circle cx="795.2" cy="244.5" r="0.85" fill="#000" opacity="0.4"/>
<circle cx="751.7" cy="251.5" r="0.85" fill="#000" opacity="0.4"/>
<circle cx="758.7" cy="251.5" r="0.85" fill="#000" opacity="0.4"/>
<circle cx="765.7" cy="251.5" r="0.85" fill="#000" opacity="0.4"/>
<circle cx="772.7" cy="251.5" r="0.85" fill="#000" opacity="0.4"/>
<circle cx="779.7" cy="251.5" r="0.85" fill="#000" opacity="0.4"/>
<circle cx="786.7" cy="251.5" r="0.85" fill="#000" opacity="0.4"/>
<circle cx="793.7" cy="251.5" r="0.85" fill="#000" opacity="0.4"/>
<circle cx="800.7" cy="251.5" r="0.85" fill="#000" opacity="0.4"/>
<circle cx="753.2" cy="258.5" r="0.85" fill="#000" opacity="0.4"/>
<circle cx="760.2" cy="258.5" r="0.85" fill="#000" opacity="0.4"/>
<circle cx="767.2" cy="258.5" r="0.85" fill="#000" opacity="0.4"/>
<circle cx="774.2" cy="258.5" r="0.85" fill="#000" opacity="0.4"/>
<circle cx="781.2" cy="258.5" r="0.85" fill="#000" opacity="0.4"/>
<circle cx="788.2" cy="258.5" r="0.85" fill="#000" opacity="0.4"/>
<circle cx="795.2" cy="258.5" r="0.85" fill="#000" opacity="0.4"/>
<circle cx="802.2" cy="258.5" r="0.85" fill="#000" opacity="0.4"/>
<circle cx="758.7" cy="265.5" r="0.85" fill="#000" opacity="0.4"/>
<circle cx="765.7" cy="265.5" r="0.85" fill="#000" opacity="0.4"/>
<circle cx="772.7" cy="265.5" r="0.85" fill="#000" opacity="0.4"/>
<circle cx="779.7" cy="265.5" r="0.85" fill="#000" opacity="0.4"/>
<circle cx="786.7" cy="265.5" r="0.85" fill="#000" opacity="0.4"/>
<circle cx="793.7" cy="265.5" r="0.85" fill="#000" opacity="0.4"/>
<circle cx="760.2" cy="272.5" r="0.85" fill="#000" opacity="0.4"/>
<circle cx="767.2" cy="272.5" r="0.85" fill="#000" opacity="0.4"/>
<circle cx="774.2" cy="272.5" r="0.85" fill="#000" opacity="0.4"/>
<circle cx="781.2" cy="272.5" r="0.85" fill="#000" opacity="0.4"/>
<circle cx="788.2" cy="272.5" r="0.85" fill="#000" opacity="0.4"/>
<circle cx="795.2" cy="272.5" r="0.85" fill="#000" opacity="0.4"/>
</g>
<ellipse cx="775.7" cy="255.5" rx="30.2" ry="27.1" fill="url(#vign)" opacity="0.35"/>
<ellipse cx="775.7" cy="255.5" rx="29.9" ry="26.8" fill="none" stroke="#3a3a20" stroke-width="1.8"/>
<defs><clipPath id="clip8"><ellipse cx="846.1" cy="255.5" rx="30.2" ry="27.1"/></clipPath><linearGradient id="g8" x1="0.5" y1="0" x2="0.5" y2="1"><stop offset="0" stop-color="#30b0a8"/><stop offset="0.1" stop-color="#60d890"/><stop offset="0.25" stop-color="#90ec68"/><stop offset="0.45" stop-color="#c8f038"/><stop offset="0.6" stop-color="#f0f020"/><stop offset="1" stop-color="#f0d820"/></linearGradient></defs>
<ellipse cx="815.4" cy="254.5" rx="2.2" ry="6.5" fill="#4a4a3a" />
<ellipse cx="876.8000000000001" cy="254.5" rx="2.2" ry="6.5" fill="#4a4a3a" />
<path d="M841.1,229.9 Q846.1,222.4 851.1,229.9 Z" fill="#9aa090" stroke="#4a4a3a" stroke-width="1"/>
<g clip-path="url(#clip8)">
<rect x="813.9" y="226.4" width="64.4" height="58.2" fill="url(#g8)"/>
<ellipse cx="856.1" cy="257.5" rx="7" ry="5" fill="#40d8b0" opacity="1" filter="url(#bl2)"/>
<ellipse cx="822.1" cy="269.5" rx="6" ry="10" fill="#f0b020" opacity="0.7" filter="url(#bl2)"/>
<ellipse cx="822.1" cy="249.5" rx="5" ry="8" fill="#90f060" opacity="0.6" filter="url(#bl2)"/>
<ellipse cx="870.1" cy="249.5" rx="5" ry="8" fill="#90f060" opacity="0.6" filter="url(#bl2)"/>
<ellipse cx="836.1" cy="243.5" rx="5" ry="4" fill="#f0f020" opacity="0.5" filter="url(#bl2)"/>
<ellipse cx="858.1" cy="243.5" rx="5" ry="4" fill="#f0f020" opacity="0.5" filter="url(#bl2)"/>
<circle cx="829.1" cy="237.5" r="0.85" fill="#000" opacity="0.4"/>
<circle cx="836.1" cy="237.5" r="0.85" fill="#000" opacity="0.4"/>
<circle cx="843.1" cy="237.5" r="0.85" fill="#000" opacity="0.4"/>
<circle cx="850.1" cy="237.5" r="0.85" fill="#000" opacity="0.4"/>
<circle cx="857.1" cy="237.5" r="0.85" fill="#000" opacity="0.4"/>
<circle cx="830.6" cy="244.5" r="0.85" fill="#000" opacity="0.4"/>
<circle cx="837.6" cy="244.5" r="0.85" fill="#000" opacity="0.4"/>
<circle cx="844.6" cy="244.5" r="0.85" fill="#000" opacity="0.4"/>
<circle cx="851.6" cy="244.5" r="0.85" fill="#000" opacity="0.4"/>
<circle cx="858.6" cy="244.5" r="0.85" fill="#000" opacity="0.4"/>
<circle cx="865.6" cy="244.5" r="0.85" fill="#000" opacity="0.4"/>
<circle cx="822.1" cy="251.5" r="0.85" fill="#000" opacity="0.4"/>
<circle cx="829.1" cy="251.5" r="0.85" fill="#000" opacity="0.4"/>
<circle cx="836.1" cy="251.5" r="0.85" fill="#000" opacity="0.4"/>
<circle cx="843.1" cy="251.5" r="0.85" fill="#000" opacity="0.4"/>
<circle cx="850.1" cy="251.5" r="0.85" fill="#000" opacity="0.4"/>
<circle cx="857.1" cy="251.5" r="0.85" fill="#000" opacity="0.4"/>
<circle cx="864.1" cy="251.5" r="0.85" fill="#000" opacity="0.4"/>
<circle cx="871.1" cy="251.5" r="0.85" fill="#000" opacity="0.4"/>
<circle cx="823.6" cy="258.5" r="0.85" fill="#000" opacity="0.4"/>
<circle cx="830.6" cy="258.5" r="0.85" fill="#000" opacity="0.4"/>
<circle cx="837.6" cy="258.5" r="0.85" fill="#000" opacity="0.4"/>
<circle cx="844.6" cy="258.5" r="0.85" fill="#000" opacity="0.4"/>
<circle cx="851.6" cy="258.5" r="0.85" fill="#000" opacity="0.4"/>
<circle cx="858.6" cy="258.5" r="0.85" fill="#000" opacity="0.4"/>
<circle cx="865.6" cy="258.5" r="0.85" fill="#000" opacity="0.4"/>
<circle cx="872.6" cy="258.5" r="0.85" fill="#000" opacity="0.4"/>
<circle cx="829.1" cy="265.5" r="0.85" fill="#000" opacity="0.4"/>
<circle cx="836.1" cy="265.5" r="0.85" fill="#000" opacity="0.4"/>
<circle cx="843.1" cy="265.5" r="0.85" fill="#000" opacity="0.4"/>
<circle cx="850.1" cy="265.5" r="0.85" fill="#000" opacity="0.4"/>
<circle cx="857.1" cy="265.5" r="0.85" fill="#000" opacity="0.4"/>
<circle cx="864.1" cy="265.5" r="0.85" fill="#000" opacity="0.4"/>
<circle cx="830.6" cy="272.5" r="0.85" fill="#000" opacity="0.4"/>
<circle cx="837.6" cy="272.5" r="0.85" fill="#000" opacity="0.4"/>
<circle cx="844.6" cy="272.5" r="0.85" fill="#000" opacity="0.4"/>
<circle cx="851.6" cy="272.5" r="0.85" fill="#000" opacity="0.4"/>
<circle cx="858.6" cy="272.5" r="0.85" fill="#000" opacity="0.4"/>
<circle cx="865.6" cy="272.5" r="0.85" fill="#000" opacity="0.4"/>
</g>
<ellipse cx="846.1" cy="255.5" rx="30.2" ry="27.1" fill="url(#vign)" opacity="0.35"/>
<ellipse cx="846.1" cy="255.5" rx="29.9" ry="26.8" fill="none" stroke="#3a3a20" stroke-width="1.8"/>
<line x1="265.5" y1="407" x2="445.5" y2="407" stroke="#444" stroke-width="1.2"/>
<line x1="295.5" y1="313" x2="295.5" y2="452" stroke="#444" stroke-width="1.2"/>
<line x1="265.5" y1="405" x2="265.5" y2="407" stroke="#444" stroke-width="0.8"/>
<line x1="280.5" y1="405" x2="280.5" y2="407" stroke="#444" stroke-width="0.8"/>
<line x1="295.5" y1="405" x2="295.5" y2="407" stroke="#444" stroke-width="0.8"/>
<line x1="310.5" y1="405" x2="310.5" y2="407" stroke="#444" stroke-width="0.8"/>
<line x1="325.5" y1="405" x2="325.5" y2="407" stroke="#444" stroke-width="0.8"/>
<line x1="340.5" y1="405" x2="340.5" y2="407" stroke="#444" stroke-width="0.8"/>
<line x1="355.5" y1="405" x2="355.5" y2="407" stroke="#444" stroke-width="0.8"/>
<line x1="370.5" y1="405" x2="370.5" y2="407" stroke="#444" stroke-width="0.8"/>
<line x1="385.5" y1="405" x2="385.5" y2="407" stroke="#444" stroke-width="0.8"/>
<line x1="400.5" y1="405" x2="400.5" y2="407" stroke="#444" stroke-width="0.8"/>
<line x1="415.5" y1="405" x2="415.5" y2="407" stroke="#444" stroke-width="0.8"/>
<line x1="430.5" y1="405" x2="430.5" y2="407" stroke="#444" stroke-width="0.8"/>
<line x1="445.5" y1="405" x2="445.5" y2="407" stroke="#444" stroke-width="0.8"/>
<line x1="293.0" y1="328.97" x2="295.5" y2="328.97" stroke="#444" stroke-width="0.8"/>
<line x1="293.0" y1="441.68" x2="295.5" y2="441.68" stroke="#444" stroke-width="0.8"/>
<text x="265.5" y="424.5" font-size="9.5" font-weight="normal" text-anchor="middle" fill="#333"  >-200</text>
<text x="325.5" y="424.5" font-size="9.5" font-weight="normal" text-anchor="middle" fill="#333"  >200</text>
<text x="355.5" y="424.5" font-size="9.5" font-weight="normal" text-anchor="middle" fill="#333"  >400</text>
<text x="385.5" y="424.5" font-size="9.5" font-weight="normal" text-anchor="middle" fill="#333"  >600</text>
<text x="415.5" y="424.5" font-size="9.5" font-weight="normal" text-anchor="middle" fill="#333"  >800</text>
<text x="445.5" y="424.5" font-size="9.5" font-weight="normal" text-anchor="middle" fill="#333"  >1000</text>
<text x="290.5" y="332.47" font-size="9.5" font-weight="normal" text-anchor="end" fill="#333"  >-9</text>
<text x="290.5" y="445.18" font-size="9.5" font-weight="normal" text-anchor="end" fill="#333"  >4</text>
<text x="267.5" y="319" font-size="10.5" font-weight="bold" text-anchor="start" fill="#111" textLength="25.5" lengthAdjust="spacingAndGlyphs" >AFz</text>
<path d="M265.5,409.6 C266.2,409.2 268.8,408.2 270.0,407.0 C271.2,405.8 271.8,402.4 273.0,402.7 C274.2,403.0 276.0,408.0 277.5,408.7 C279.0,409.5 280.5,406.9 282.0,407.0 C283.5,407.1 285.0,409.7 286.5,409.6 C288.0,409.5 289.5,406.1 291.0,406.1 C292.5,406.1 294.0,409.3 295.5,409.6 C297.0,409.9 298.5,408.3 300.0,407.9 C301.5,407.4 303.1,406.9 304.5,407.0 C305.9,407.1 307.2,411.6 308.2,408.7 C309.2,405.8 309.7,394.7 310.5,389.7 C311.3,384.6 312.3,379.1 313.2,378.4 C314.1,377.7 314.9,380.8 315.8,385.3 C316.6,389.8 317.3,402.1 318.0,405.3 C318.7,408.4 319.1,411.9 319.9,404.4 C320.8,396.9 322.2,371.7 323.2,360.2 C324.3,348.6 325.4,340.3 326.2,335.0 C327.1,329.8 327.6,328.1 328.4,328.5 C329.1,329.0 329.8,332.4 330.8,337.6 C331.7,342.9 333.1,354.7 334.2,360.2 C335.3,365.7 336.4,368.3 337.5,370.6 C338.6,372.9 339.5,372.9 340.5,374.1 C341.5,375.2 342.2,375.5 343.5,377.5 C344.8,379.5 346.4,383.3 348.0,386.2 C349.6,389.1 351.2,392.3 352.9,394.9 C354.7,397.5 356.8,400.6 358.5,401.8 C360.2,403.0 361.5,401.7 363.0,401.8 C364.5,401.9 366.0,402.1 367.5,402.7 C369.0,403.2 370.5,404.4 372.0,405.3 C373.5,406.1 374.2,405.4 376.5,407.9 C378.8,410.3 382.8,416.1 385.5,420.0 C388.2,423.9 390.9,427.4 393.0,431.3 C395.1,435.2 396.5,442.0 398.2,443.4 C400.0,444.9 401.6,441.7 403.5,439.9 C405.4,438.2 407.5,434.9 409.5,433.0 C411.5,431.1 413.2,431.3 415.5,428.7 C417.8,426.1 420.5,420.3 423.0,417.4 C425.5,414.5 428.0,412.8 430.5,411.3 C433.0,409.9 435.5,409.7 438.0,408.7 C440.5,407.7 444.2,405.8 445.5,405.3" fill="none" stroke="#6a6a6a" stroke-width="1.3"/>
<path d="M265.5,409.6 C266.2,409.2 268.8,408.2 270.0,407.0 C271.2,405.8 271.8,402.4 273.0,402.7 C274.2,403.0 276.0,408.0 277.5,408.7 C279.0,409.5 280.5,406.9 282.0,407.0 C283.5,407.1 285.0,409.7 286.5,409.6 C288.0,409.5 289.5,406.1 291.0,406.1 C292.5,406.1 294.0,409.3 295.5,409.6 C297.0,409.9 298.5,408.3 300.0,407.9 C301.5,407.4 303.1,406.9 304.5,407.0 C305.9,407.1 307.2,411.6 308.2,408.7 C309.2,405.8 309.7,394.7 310.5,389.7 C311.3,384.6 312.3,379.1 313.2,378.4 C314.1,377.7 314.9,380.8 315.8,385.3 C316.6,389.8 317.3,402.1 318.0,405.3 C318.7,408.4 319.1,411.9 319.9,404.4 C320.8,396.9 322.2,371.7 323.2,360.2 C324.3,348.6 325.4,340.3 326.2,335.0 C327.1,329.8 327.6,328.1 328.4,328.5 C329.1,329.0 329.8,332.4 330.8,337.6 C331.7,342.9 333.1,354.7 334.2,360.2 C335.3,365.7 336.4,368.3 337.5,370.6 C338.6,372.9 339.5,372.9 340.5,374.1 C341.5,375.2 342.2,375.5 343.5,377.5 C344.8,379.5 346.4,383.3 348.0,386.2 C349.6,389.1 351.2,392.8 352.9,394.9 C354.7,396.9 356.6,399.1 358.5,398.3 C360.4,397.6 362.8,392.1 364.5,390.5 C366.2,388.9 367.5,387.8 369.0,388.8 C370.5,389.8 372.0,393.6 373.5,396.6 C375.0,399.6 376.0,403.8 378.0,407.0 C380.0,410.2 383.0,413.6 385.5,415.7 C388.0,417.7 390.5,418.4 393.0,419.1 C395.5,419.9 398.0,419.9 400.5,420.0 C403.0,420.1 405.5,420.1 408.0,420.0 C410.5,419.9 413.0,420.1 415.5,419.1 C418.0,418.1 420.5,415.2 423.0,413.9 C425.5,412.6 428.0,412.2 430.5,411.3 C433.0,410.5 435.5,409.9 438.0,408.7 C440.5,407.6 444.2,405.1 445.5,404.4" fill="none" stroke="#cc4444" stroke-width="1.4" stroke-dasharray="5.5,3"/>
<line x1="473.16" y1="406.6" x2="655.2" y2="406.6" stroke="#444" stroke-width="1.2"/>
<line x1="503.5" y1="312.6" x2="503.5" y2="451.6" stroke="#444" stroke-width="1.2"/>
<line x1="473.16" y1="404.6" x2="473.16" y2="406.6" stroke="#444" stroke-width="0.8"/>
<line x1="488.33" y1="404.6" x2="488.33" y2="406.6" stroke="#444" stroke-width="0.8"/>
<line x1="503.5" y1="404.6" x2="503.5" y2="406.6" stroke="#444" stroke-width="0.8"/>
<line x1="518.67" y1="404.6" x2="518.67" y2="406.6" stroke="#444" stroke-width="0.8"/>
<line x1="533.84" y1="404.6" x2="533.84" y2="406.6" stroke="#444" stroke-width="0.8"/>
<line x1="549.01" y1="404.6" x2="549.01" y2="406.6" stroke="#444" stroke-width="0.8"/>
<line x1="564.18" y1="404.6" x2="564.18" y2="406.6" stroke="#444" stroke-width="0.8"/>
<line x1="579.35" y1="404.6" x2="579.35" y2="406.6" stroke="#444" stroke-width="0.8"/>
<line x1="594.52" y1="404.6" x2="594.52" y2="406.6" stroke="#444" stroke-width="0.8"/>
<line x1="609.69" y1="404.6" x2="609.69" y2="406.6" stroke="#444" stroke-width="0.8"/>
<line x1="624.86" y1="404.6" x2="624.86" y2="406.6" stroke="#444" stroke-width="0.8"/>
<line x1="640.03" y1="404.6" x2="640.03" y2="406.6" stroke="#444" stroke-width="0.8"/>
<line x1="655.2" y1="404.6" x2="655.2" y2="406.6" stroke="#444" stroke-width="0.8"/>
<line x1="501.0" y1="328.57000000000005" x2="503.5" y2="328.57000000000005" stroke="#444" stroke-width="0.8"/>
<line x1="501.0" y1="441.28000000000003" x2="503.5" y2="441.28000000000003" stroke="#444" stroke-width="0.8"/>
<text x="473.16" y="424.1" font-size="9.5" font-weight="normal" text-anchor="middle" fill="#333"  >-200</text>
<text x="533.84" y="424.1" font-size="9.5" font-weight="normal" text-anchor="middle" fill="#333"  >200</text>
<text x="564.18" y="424.1" font-size="9.5" font-weight="normal" text-anchor="middle" fill="#333"  >400</text>
<text x="594.52" y="424.1" font-size="9.5" font-weight="normal" text-anchor="middle" fill="#333"  >600</text>
<text x="624.86" y="424.1" font-size="9.5" font-weight="normal" text-anchor="middle" fill="#333"  >800</text>
<text x="655.2" y="424.1" font-size="9.5" font-weight="normal" text-anchor="middle" fill="#333"  >1000</text>
<text x="498.5" y="332.07000000000005" font-size="9.5" font-weight="normal" text-anchor="end" fill="#333"  >-9</text>
<text x="498.5" y="444.78000000000003" font-size="9.5" font-weight="normal" text-anchor="end" fill="#333"  >4</text>
<text x="484.5" y="318.6" font-size="10.5" font-weight="bold" text-anchor="start" fill="#111" textLength="16.5" lengthAdjust="spacingAndGlyphs" >Cz</text>
<path d="M473.2,410.9 C474.4,410.5 478.2,408.3 480.7,408.3 C483.3,408.3 485.8,411.2 488.3,410.9 C490.9,410.6 493.4,407.8 495.9,406.6 C498.4,405.4 501.0,404.9 503.5,404.0 C506.0,403.1 509.1,402.1 511.1,401.4 C513.1,400.7 514.4,401.7 515.6,399.7 C516.9,397.6 517.7,393.9 518.7,389.3 C519.7,384.6 520.7,374.1 521.7,371.9 C522.7,369.8 523.9,372.8 524.7,376.3 C525.5,379.7 525.7,390.8 526.6,392.7 C527.4,394.6 528.4,393.9 529.6,387.5 C530.8,381.2 532.6,364.4 533.8,354.6 C535.1,344.8 536.0,334.1 536.9,328.6 C537.8,323.1 538.3,318.7 539.1,321.6 C540.0,324.5 541.0,336.8 542.2,345.9 C543.3,355.0 544.8,369.8 546.0,376.3 C547.1,382.8 547.7,382.8 549.0,384.9 C550.3,387.1 551.8,387.4 553.6,389.3 C555.3,391.1 557.9,395.0 559.6,396.2 C561.4,397.4 562.2,397.1 564.2,396.2 C566.2,395.3 569.7,391.6 571.8,391.0 C573.8,390.4 574.5,391.6 576.3,392.7 C578.1,393.9 580.4,395.6 582.4,397.9 C584.4,400.2 586.4,403.0 588.5,406.6 C590.5,410.2 592.5,414.5 594.5,419.6 C596.5,424.7 598.4,431.7 600.6,436.9 C602.8,442.1 605.5,449.2 607.6,450.8 C609.6,452.4 610.8,448.1 612.7,446.5 C614.7,444.9 617.2,442.9 619.2,441.3 C621.3,439.7 622.7,439.1 624.9,436.9 C627.0,434.8 629.5,431.2 632.0,428.3 C634.5,425.4 637.4,422.2 640.0,419.6 C642.6,417.0 645.1,414.7 647.6,412.7 C650.1,410.6 653.9,408.3 655.2,407.5" fill="none" stroke="#6a6a6a" stroke-width="1.3"/>
<path d="M473.2,410.9 C474.4,410.5 478.2,408.3 480.7,408.3 C483.3,408.3 485.8,411.2 488.3,410.9 C490.9,410.6 493.4,407.8 495.9,406.6 C498.4,405.4 501.0,404.9 503.5,404.0 C506.0,403.1 509.1,402.1 511.1,401.4 C513.1,400.7 514.4,401.7 515.6,399.7 C516.9,397.6 517.7,393.9 518.7,389.3 C519.7,384.6 520.7,374.1 521.7,371.9 C522.7,369.8 523.9,372.8 524.7,376.3 C525.5,379.7 525.7,390.8 526.6,392.7 C527.4,394.6 528.4,393.9 529.6,387.5 C530.8,381.2 532.6,364.4 533.8,354.6 C535.1,344.8 536.0,334.1 536.9,328.6 C537.8,323.1 538.3,318.7 539.1,321.6 C540.0,324.5 541.0,336.8 542.2,345.9 C543.3,355.0 544.8,369.8 546.0,376.3 C547.1,382.8 547.7,382.8 549.0,384.9 C550.3,387.1 551.8,387.4 553.6,389.3 C555.3,391.1 557.9,395.9 559.6,396.2 C561.4,396.5 562.2,393.3 564.2,391.0 C566.2,388.7 569.7,384.3 571.8,382.3 C573.8,380.3 574.5,378.6 576.3,378.9 C578.1,379.1 580.4,380.9 582.4,384.1 C584.4,387.2 586.4,393.5 588.5,397.9 C590.5,402.4 592.8,407.2 594.5,410.9 C596.3,414.7 596.5,418.4 599.1,420.5 C601.6,422.5 605.4,422.2 609.7,423.1 C614.0,423.9 620.6,425.0 624.9,425.7 C629.2,426.4 632.4,428.3 635.5,427.4 C638.5,426.5 639.8,423.9 643.1,420.5 C646.4,417.0 653.2,408.9 655.2,406.6" fill="none" stroke="#cc4444" stroke-width="1.4" stroke-dasharray="5.5,3"/>
<line x1="687.9" y1="406.8" x2="874.5" y2="406.8" stroke="#444" stroke-width="1.2"/>
<line x1="719" y1="312.8" x2="719" y2="451.8" stroke="#444" stroke-width="1.2"/>
<line x1="687.9" y1="404.8" x2="687.9" y2="406.8" stroke="#444" stroke-width="0.8"/>
<line x1="703.45" y1="404.8" x2="703.45" y2="406.8" stroke="#444" stroke-width="0.8"/>
<line x1="719.0" y1="404.8" x2="719.0" y2="406.8" stroke="#444" stroke-width="0.8"/>
<line x1="734.55" y1="404.8" x2="734.55" y2="406.8" stroke="#444" stroke-width="0.8"/>
<line x1="750.1" y1="404.8" x2="750.1" y2="406.8" stroke="#444" stroke-width="0.8"/>
<line x1="765.65" y1="404.8" x2="765.65" y2="406.8" stroke="#444" stroke-width="0.8"/>
<line x1="781.2" y1="404.8" x2="781.2" y2="406.8" stroke="#444" stroke-width="0.8"/>
<line x1="796.75" y1="404.8" x2="796.75" y2="406.8" stroke="#444" stroke-width="0.8"/>
<line x1="812.3" y1="404.8" x2="812.3" y2="406.8" stroke="#444" stroke-width="0.8"/>
<line x1="827.85" y1="404.8" x2="827.85" y2="406.8" stroke="#444" stroke-width="0.8"/>
<line x1="843.4" y1="404.8" x2="843.4" y2="406.8" stroke="#444" stroke-width="0.8"/>
<line x1="858.95" y1="404.8" x2="858.95" y2="406.8" stroke="#444" stroke-width="0.8"/>
<line x1="874.5" y1="404.8" x2="874.5" y2="406.8" stroke="#444" stroke-width="0.8"/>
<line x1="716.5" y1="328.77" x2="719" y2="328.77" stroke="#444" stroke-width="0.8"/>
<line x1="716.5" y1="441.48" x2="719" y2="441.48" stroke="#444" stroke-width="0.8"/>
<text x="687.9" y="424.3" font-size="9.5" font-weight="normal" text-anchor="middle" fill="#333"  >-200</text>
<text x="750.1" y="424.3" font-size="9.5" font-weight="normal" text-anchor="middle" fill="#333"  >200</text>
<text x="781.2" y="424.3" font-size="9.5" font-weight="normal" text-anchor="middle" fill="#333"  >400</text>
<text x="812.3" y="424.3" font-size="9.5" font-weight="normal" text-anchor="middle" fill="#333"  >600</text>
<text x="843.4" y="424.3" font-size="9.5" font-weight="normal" text-anchor="middle" fill="#333"  >800</text>
<text x="874.5" y="424.3" font-size="9.5" font-weight="normal" text-anchor="middle" fill="#333"  >1000</text>
<text x="714" y="332.27" font-size="9.5" font-weight="normal" text-anchor="end" fill="#333"  >-9</text>
<text x="714" y="444.98" font-size="9.5" font-weight="normal" text-anchor="end" fill="#333"  >4</text>
<text x="692.8" y="318.8" font-size="10.5" font-weight="bold" text-anchor="start" fill="#111" textLength="23" lengthAdjust="spacingAndGlyphs" >CP5</text>
<path d="M687.9,415.5 C690.5,414.7 698.3,412.9 703.5,411.1 C708.6,409.4 715.1,406.8 719.0,405.1 C722.9,403.3 724.2,402.6 726.8,400.7 C729.4,398.9 732.0,396.4 734.5,393.8 C737.1,391.2 740.3,387.3 742.3,385.1 C744.4,383.0 745.4,383.0 747.0,380.8 C748.5,378.6 750.4,374.7 751.7,372.1 C753.0,369.5 753.7,365.6 754.8,365.2 C755.8,364.8 756.6,366.2 757.9,369.5 C759.2,372.8 760.7,380.6 762.5,385.1 C764.4,389.6 766.4,393.2 768.8,396.4 C771.1,399.6 774.5,401.9 776.5,404.2 C778.6,406.5 779.6,409.5 781.2,410.3 C782.8,411.0 783.8,409.4 785.9,408.5 C787.9,407.7 791.3,405.4 793.6,405.1 C796.0,404.8 797.8,405.4 799.9,406.8 C801.9,408.2 804.0,411.1 806.1,413.7 C808.2,416.3 810.2,419.2 812.3,422.4 C814.4,425.6 816.4,429.6 818.5,432.8 C820.6,436.0 822.7,440.6 825.1,441.5 C827.4,442.3 829.6,439.0 832.5,438.0 C835.4,437.0 839.0,437.7 842.6,435.4 C846.2,433.1 850.7,426.7 854.0,424.1 C857.2,421.5 858.6,421.1 862.1,419.8 C865.5,418.5 872.4,416.9 874.5,416.3" fill="none" stroke="#6a6a6a" stroke-width="1.3"/>
<path d="M687.9,415.5 C690.5,414.7 698.3,412.9 703.5,411.1 C708.6,409.4 715.1,406.8 719.0,405.1 C722.9,403.3 724.2,402.6 726.8,400.7 C729.4,398.9 732.0,396.4 734.5,393.8 C737.1,391.2 740.3,387.3 742.3,385.1 C744.4,383.0 745.4,383.0 747.0,380.8 C748.5,378.6 750.4,374.7 751.7,372.1 C753.0,369.5 753.7,365.6 754.8,365.2 C755.8,364.8 756.6,366.2 757.9,369.5 C759.2,372.8 760.7,380.6 762.5,385.1 C764.4,389.6 766.7,393.7 768.8,396.4 C770.8,399.1 772.9,400.2 775.0,401.6 C777.1,403.0 779.1,405.6 781.2,405.1 C783.3,404.5 785.3,400.3 787.4,398.1 C789.5,396.0 791.6,392.4 793.6,392.1 C795.7,391.8 797.8,394.2 799.9,396.4 C801.9,398.6 804.0,402.6 806.1,405.1 C808.2,407.5 810.0,409.5 812.3,411.1 C814.6,412.8 815.0,413.4 820.1,415.0 C825.2,416.7 836.4,419.4 842.9,421.2 C849.5,423.0 854.0,426.4 859.3,425.9 C864.5,425.4 872.0,419.4 874.5,418.1" fill="none" stroke="#cc4444" stroke-width="1.4" stroke-dasharray="5.5,3"/>
<line x1="784.5" y1="308.5" x2="814" y2="308.5" stroke="#777" stroke-width="1.5"/>
<text x="815.5" y="312.5" font-size="11" font-weight="normal" text-anchor="start" fill="#333" textLength="93" lengthAdjust="spacingAndGlyphs" >High_Frequency</text>
<line x1="783" y1="332" x2="814" y2="332" stroke="#d86060" stroke-width="1.5" stroke-dasharray="6,4"/>
<text x="815.5" y="336" font-size="11" font-weight="normal" text-anchor="start" fill="#333" textLength="90" lengthAdjust="spacingAndGlyphs" >Low_Frequency</text>
<text x="925" y="53" font-size="7.5" fill="#888">↵</text>
<text x="925" y="98" font-size="7.5" fill="#888">↵</text>
<text x="925" y="124.5" font-size="7.5" fill="#888">↵</text>
<text x="925" y="160.5" font-size="7.5" fill="#888">↵</text>
<text x="925" y="192" font-size="7.5" fill="#888">↵</text>
<text x="925" y="223" font-size="7.5" fill="#888">↵</text>
<text x="925" y="315" font-size="7.5" fill="#888">↵</text>
</g>
</svg></div></body></html>
